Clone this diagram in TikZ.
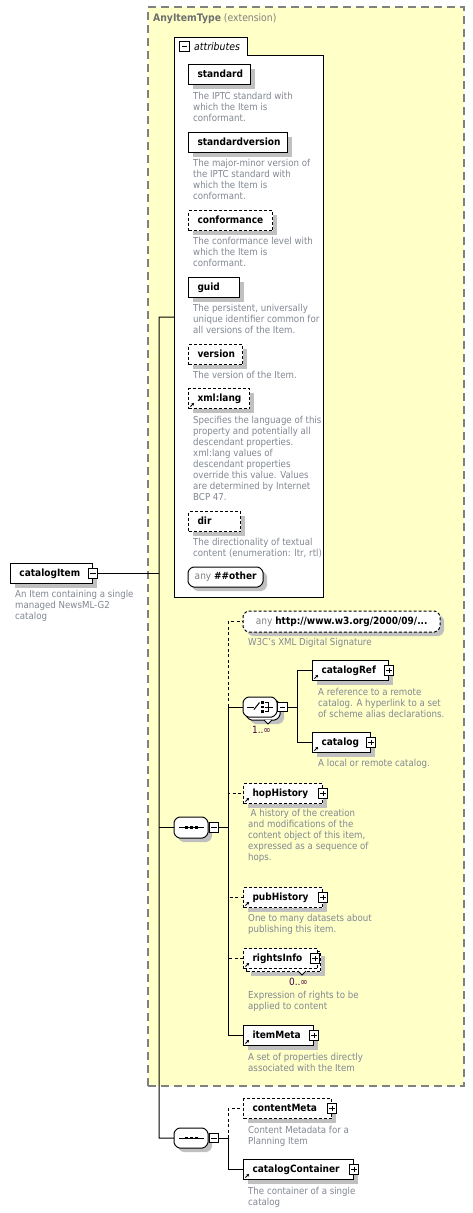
\documentclass[tikz,border=0pt]{standalone}
\usepackage{fontspec}
\setmainfont{DejaVu Sans}[FakeStretch=0.9]
\usetikzlibrary{arrows.meta,shadows}

\definecolor{yel}{RGB}{255,255,200}
\definecolor{ygray}{RGB}{128,128,128}
\definecolor{tgray}{RGB}{110,110,110}
\definecolor{shd}{RGB}{192,192,192}
\definecolor{dsc}{RGB}{130,136,146}
\definecolor{mult}{RGB}{64,0,64}

\newcommand\elfont{\fontsize{10}{11}\selectfont\bfseries}
\newcommand\nmfont{\fontsize{10}{11}\selectfont}
\newcommand\dsfont{\fontsize{9.6}{11}\selectfont}
\newcommand\ttlfont{\fontsize{10.3}{11}\selectfont}
\newcommand\atfont{\fontsize{10.4}{11}\selectfont\itshape}

\tikzset{
  ebase/.style={draw=black, line width=1pt, fill=white, minimum height=20pt,
    inner xsep=9pt, inner ysep=0pt, anchor=north west, align=left,
    font=\elfont, text height=7.4pt, text depth=2pt},
  eshadow/.style={drop shadow={shadow xshift=4pt, shadow yshift=-4pt, fill=shd, opacity=1}},
  ebox/.style={ebase, eshadow},
  opt/.style={dash pattern=on 3pt off 2pt},
  pm/.style={draw=black, line width=0.8pt, fill=white, minimum size=9.5pt, inner sep=0pt},
  plusbox/.style={pm, path picture={\draw[line width=0.8pt]
      ([xshift=2pt]path picture bounding box.west) -- ([xshift=-2pt]path picture bounding box.east)
      ([yshift=-2pt]path picture bounding box.north) -- ([yshift=2pt]path picture bounding box.south);}},
  minusbox/.style={pm, path picture={\draw[line width=0.8pt]
      ([xshift=2pt]path picture bounding box.west) -- ([xshift=-2pt]path picture bounding box.east);}},
  dscn/.style={anchor=north west, inner sep=0pt, align=left, text=dsc, font=\dsfont, yshift=0.7pt},
  conn/.style={line width=1pt, draw=black},
  oconn/.style={conn, dash pattern=on 3pt off 2.5pt},
  octn/.style={inner sep=0pt, anchor=north west, font=\nmfont}
}

% octagon with shadow: [style]{x1}{y1}{x2}{y2}
\newcommand\octo[5][]{%
  \fill[shd, rounded corners=1.5pt] (#2+8,#3+4) -- (#4,#3+4) -- (#4+4,#3+8) -- (#4+4,#5) -- (#4,#5+4) -- (#2+8,#5+4) -- (#2+4,#5) -- (#2+4,#3+8) -- cycle;
  \draw[line width=1pt, fill=white, rounded corners=1.5pt, #1] (#2+4,#3) -- (#4-4,#3) -- (#4,#3+4) -- (#4,#5-4) -- (#4-4,#5) -- (#2+4,#5) -- (#2,#5-4) -- (#2,#3+4) -- cycle;}
\newcommand\octons[5][]{%
  \draw[line width=1pt, fill=white, rounded corners=1.5pt, #1] (#2+4,#3) -- (#4-4,#3) -- (#4,#3+4) -- (#4,#5-4) -- (#4-4,#5) -- (#2+4,#5) -- (#2,#5-4) -- (#2,#3+4) -- cycle;}
\newcommand\refic[1]{\draw[line width=0.9pt, -{Stealth[length=2.6pt,width=2.8pt]}] ([shift={(2.5,-2.5)}]#1.south west) -- ++(3.6,-3.6);}

\begin{document}
\begin{tikzpicture}[x=1pt,y=-1pt]
\useasboundingbox (0,0) rectangle (473,1213);
\fill[white] (0,0) rectangle (473,1213);

% extension container
\node[draw=ygray, line width=1.5pt, dash pattern=on 8pt off 5pt, fill=yel, inner sep=0pt,
      minimum width=316pt, minimum height=1079pt, anchor=north west] (ext) at (147,6) {};
\node[anchor=base west, inner sep=0pt, font=\ttlfont] (extTitle) at (153,21.5)
  {\textcolor{tgray}{\bfseries AnyItemType} \textcolor{ygray}{(extension)}};

% attributes panel
\draw[line width=1pt, fill=white] (174,597) -- (174,37) -- (247,37) -- (247,55) -- (323,55) -- (323,597) -- cycle;
\node[minusbox] (attrPM) at (184.5,46.5) {};
\node[anchor=base west, inner sep=0pt, font=\atfont] (attrLbl) at (194,50.5) {attributes};
\coordinate (attrIn) at (174,317);

% attributes
\node[ebox, text width=44pt] (aStd) at (188,64) {standard};
\node[dscn] (dStd) at (193,93) {The IPTC standard with\\which the Item is\\conformant.};
\node[ebox, text width=81pt] (aStdV) at (188,132) {standardversion};
\node[dscn] (dStdV) at (193,160) {The major-minor version of\\the IPTC standard with\\which the Item is\\conformant.};
\node[ebox, opt, text width=66pt] (aConf) at (188,210) {conformance};
\node[dscn] (dConf) at (193,237.5) {The conformance level with\\which the Item is\\conformant.};
\node[ebox, text width=33pt] (aGuid) at (188,277) {guid};
\node[dscn] (dGuid) at (193,305) {The persistent, universally\\unique identifier common for\\all versions of the Item.};
\node[ebox, opt, text width=36pt] (aVer) at (188,344) {version};
\node[dscn] (dVer) at (193,371.5) {The version of the Item.};
\node[ebox, opt, text width=43pt] (aLang) at (188,388) {xml:lang};
\refic{aLang}
\node[dscn] (dLang) at (193,416.5) {Specifies the language of this\\property and potentially all\\descendant properties.\\xml:lang values of\\descendant properties\\override this value. Values\\are determined by Internet\\BCP 47.};
\node[ebox, opt, text width=34pt] (aDir) at (188,511) {dir};
\node[dscn] (dDir) at (193,538.5) {The directionality of textual\\content (enumeration: ltr, rtl)};
\octo{188}{567}{263}{587}
\node[octn, minimum width=75pt, minimum height=20pt] (aAny) at (188,567)
  {\textcolor{ygray}{any} \textbf{\#\#other}};

% root element
\node[ebox, text width=64pt] (ci) at (10,563) {catalogItem};
\node[minusbox] (ciPM) at (ci.east) {};
\node[dscn] (dCi) at (15,591) {An Item containing a single\\managed NewsML-G2\\catalog};

% first sequence
\octo{174}{817}{208}{838}
\node[octn, minimum width=34pt, minimum height=21pt] (seq1) at (174,817) {};
\draw[line width=1pt] (179,827.5) -- (204,827.5);
\foreach \sx in {186.5,191.5,196.5} \fill (\sx-1.3,826.2) rectangle (\sx+1.3,828.8);
\node[minusbox] (seq1PM) at (214,827.5) {};

% any http
\octo[opt]{243}{611}{440}{632}
\node[octn, minimum width=197pt, minimum height=21pt] (anyW) at (243,611)
  {\textcolor{ygray}{any} \textbf{http://www.w3.org/2000/09/...}};
\node[dscn] (dAnyW) at (248,638.5) {W3C's XML Digital Signature};

% choice
\octo{246}{700}{280}{720}
\draw[line width=0.8pt, fill=white] (264,720) -- (268,724) -- (272,720);
\octons{243}{697}{277}{717}
\node[octn, minimum width=34pt, minimum height=20pt] (choice) at (243,697) {};
\draw[line width=1pt] (247,707) -- (254,707);
\draw[line width=1pt] (254,709.5) -- (259.5,702.5);
\foreach \sy in {702.5,707,711.5} \fill (261.2,\sy-1.2) rectangle (263.6,\sy+1.2);
\draw[line width=1pt] (264.5,702.5) -- (268.5,702.5) -- (268.5,711.5) -- (264.5,711.5);
\draw[line width=1pt] (264.5,707) -- (273,707);
\node[minusbox] (chPM) at (282.5,707) {};
\node[font=\nmfont, text=mult, inner sep=0pt] (m1) at (261.5,730) {1..∞};

\node[ebox, text width=58pt] (catRef) at (312,660) {catalogRef};
\refic{catRef}
\node[plusbox] (catRefP) at (catRef.east) {};
\node[dscn] (dCatRef) at (318,688.5) {A reference to a remote\\catalog. A hyperlink to a set\\of scheme alias declarations.};
\node[ebox, text width=40pt] (cat) at (312,732) {catalog};
\refic{cat}
\node[plusbox] (catP) at (cat.east) {};
\node[dscn] (dCat) at (318,760) {A local or remote catalog.};

\node[ebox, opt, text width=61pt] (hop) at (243,783) {hopHistory};
\refic{hop}
\node[plusbox] (hopP) at (hop.east) {};
\node[dscn] (dHop) at (248,810) {\hspace*{2.5pt}A history of the creation\\and modifications of the\\content object of this item,\\expressed as a sequence of\\hops.};

\node[ebox, opt, text width=61pt] (pub) at (243,887) {pubHistory};
\refic{pub}
\node[plusbox] (pubP) at (pub.east) {};
\node[dscn] (dPub) at (248,915) {One to many datasets about\\publishing this item.};

\node[ebox, opt, text width=56pt] (rInfoBack) at (246,951) {};
\draw[line width=0.8pt, fill=white] (298,971) -- (302,975) -- (306,971);
\node[ebase, opt, text width=56pt] (rInfo) at (243,948) {rightsInfo};
\refic{rInfo}
\node[plusbox] (rInfoP) at ([xshift=-3pt]rInfo.east) {};
\node[font=\nmfont, text=mult, inner sep=0pt] (m2) at (298.5,982) {0..∞};
\node[dscn] (dRInfo) at (248,992) {Expression of rights to be\\applied to content};

\node[ebox, text width=52pt] (meta) at (243,1025) {itemMeta};
\refic{meta}
\node[plusbox] (metaP) at (meta.east) {};
\node[dscn] (dMeta) at (248,1053.5) {A set of properties directly\\associated with the Item};

% second sequence
\octo{174}{1128}{208}{1148}
\node[octn, minimum width=34pt, minimum height=20pt] (seq2) at (174,1128) {};
\draw[line width=1pt] (179,1138) -- (204,1138);
\foreach \sx in {186.5,191.5,196.5} \fill (\sx-1.3,1136.7) rectangle (\sx+1.3,1139.3);
\node[minusbox] (seq2PM) at (214,1138) {};

\node[ebox, opt, text width=70pt] (cMeta) at (243,1098) {contentMeta};
\node[plusbox] (cMetaP) at (cMeta.east) {};
\node[dscn] (dCMeta) at (248,1126.5) {Content Metadata for a\\Planning Item};

\node[ebox, text width=92pt] (cCont) at (243,1159) {catalogContainer};
\refic{cCont}
\node[plusbox] (cContP) at (cCont.east) {};
\node[dscn] (dCCont) at (248,1187.5) {The container of a single\\catalog};

% connectors
\coordinate (tk1) at (159,317);
\coordinate (tk2) at (159,1138);
\draw[conn] (ciPM.east) -- (ciPM.east -| tk1);
\draw[conn] (attrIn) -- (tk1) -- (tk2) -- (seq2.west);
\draw[conn] (seq1.west -| tk1) -- (seq1.west);

\coordinate (b1) at (228,827.5);
\draw[conn] (seq1PM.east) -- (b1);
\draw[oconn] (b1) |- (anyW.west);
\draw[oconn] (b1) |- (hop.west);
\draw[oconn] (b1) |- (pub.west);
\draw[oconn] (b1) |- (rInfo.west);
\draw[conn] (b1) |- (choice.west);
\draw[conn] (b1) |- (meta.west);

\coordinate (b2) at (297,707);
\draw[conn] (chPM.east) -- (b2);
\draw[conn] (b2) |- (catRef.west);
\draw[conn] (b2) |- (cat.west);

\coordinate (b3) at (228,1138);
\draw[conn] (seq2PM.east) -- (b3);
\draw[oconn] (b3) |- (cMeta.west);
\draw[conn] (b3) |- (cCont.west);
\end{tikzpicture}
\end{document}
